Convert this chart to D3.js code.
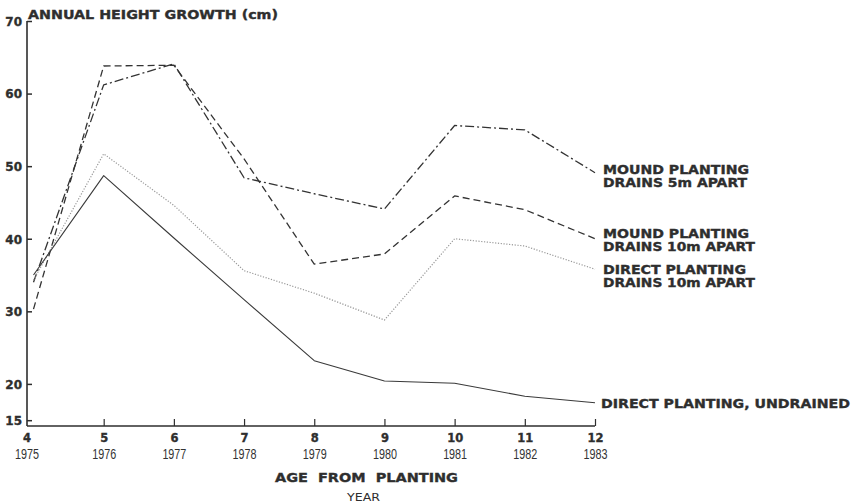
<!DOCTYPE html>
<html><head><meta charset="utf-8">
<script src="https://cdn.jsdelivr.net/npm/d3@7"></script>
<style>
html,body{margin:0;padding:0;background:#fff;}
svg{display:block;}
</style></head>
<body>
<svg id="chart" width="860" height="502"></svg>
<script>
// ---- data ----
const ages = [4, 5, 6, 7, 8, 9, 10, 11, 12];
const years = ["1975", "1976", "1977", "1978", "1979", "1980", "1981", "1982", "1983"];
const yTicks = [15, 20, 30, 40, 50, 60, 70];
const mound5 = [34.0, 61.2, 64.1, 48.4, 46.2, 44.1, 55.6, 55.0, 49.1];
const mound10 = [30.3, 63.8, 63.9, 51.0, 36.5, 37.9, 45.9, 44.0, 40.0];
const direct10 = [34.3, 51.7, 44.6, 35.6, 32.5, 28.8, 40.0, 39.0, 35.8];
const undrained = [35.0, 48.7, 40.1, 31.6, 23.2, 20.4, 20.1, 18.3, 17.4];
const labelMound5 = ["MOUND PLANTING", "DRAINS 5m APART"];
const labelMound10 = ["MOUND PLANTING", "DRAINS 10m APART"];
const labelDirect10 = ["DIRECT PLANTING", "DRAINS 10m APART"];
const labelUndrained = ["DIRECT PLANTING, UNDRAINED"];
const yTitle = "ANNUAL HEIGHT GROWTH (cm)";
const xTitle = "AGE  FROM  PLANTING";
const xSubTitle = "YEAR";

// ---- layout ----
const svg = d3.select("#chart");
const ink = "#2e2e2e";
const boldFont = "'DejaVu Sans', sans-serif";
const narrowFont = "'Liberation Sans', Arial, sans-serif";
const axisX = 27, axisY = 426;
const x = d3.scaleLinear().domain([4, 12]).range([33.5, 595]);
const y = d3.scaleLinear().domain([14.2, 70]).range([426, 21]);

function heavy(sel) {
  return sel.attr("fill", ink).attr("stroke", ink).attr("stroke-width", 0.35)
    .attr("font-family", boldFont).style("font-weight", "bold");
}

// y axis
const gy = svg.append("g").attr("transform", `translate(${axisX},0)`)
  .call(d3.axisLeft(y).tickValues(yTicks).tickSize(-5).tickPadding(5).tickSizeOuter(0));
gy.select(".domain").remove();
gy.selectAll(".tick line").attr("stroke", ink).attr("stroke-width", 1.5);
heavy(gy.selectAll(".tick text")).attr("font-size", 12).attr("dy", "0.36em");
svg.append("line").attr("x1", axisX).attr("x2", axisX).attr("y1", y(70)).attr("y2", axisY)
  .attr("stroke", ink).attr("stroke-width", 1.6);

// x axis
const gx = svg.append("g").attr("transform", `translate(0,${axisY})`)
  .call(d3.axisBottom(x).tickValues(ages).tickSize(-7).tickSizeOuter(0).tickFormat(d => d));
gx.select(".domain").remove();
gx.selectAll(".tick line").attr("stroke", ink).attr("stroke-width", 1.2)
  .filter(d => d === 4).remove();
heavy(gx.selectAll(".tick text")).attr("font-size", 11.5).attr("y", 16).attr("dy", 0);
gx.selectAll(".tick").append("text").attr("class", "year")
  .attr("fill", "#333").attr("font-family", narrowFont).attr("font-size", 14.5)
  .attr("text-anchor", "middle").attr("y", 33)
  .attr("textLength", 24).attr("lengthAdjust", "spacingAndGlyphs")
  .text(d => years[ages.indexOf(d)]);
gx.selectAll(".tick").filter(d => d === 4)
  .attr("transform", `translate(${axisX},0)`);
svg.append("line").attr("x1", axisX).attr("x2", x(12)).attr("y1", axisY).attr("y2", axisY)
  .attr("stroke", ink).attr("stroke-width", 1.6);

// titles
heavy(svg.append("text")).attr("x", 28).attr("y", 19).attr("font-size", 11.5)
  .attr("textLength", 250).attr("lengthAdjust", "spacingAndGlyphs").text(yTitle);
heavy(svg.append("text")).attr("x", 275).attr("y", 482).attr("font-size", 12)
  .attr("textLength", 183).attr("lengthAdjust", "spacingAndGlyphs")
  .style("white-space", "pre").text(xTitle);
svg.append("text").attr("x", 347).attr("y", 501).attr("fill", ink)
  .attr("font-family", boldFont).attr("font-size", 10.5)
  .attr("textLength", 33).attr("lengthAdjust", "spacingAndGlyphs").text(xSubTitle);

// lines
const series = [
  {vals: mound5, dash: "9,3,2,3", color: "#333", width: 1.3},
  {vals: mound10, dash: "7,4", color: "#333", width: 1.3},
  {vals: direct10, dash: "1.2,1.6", color: "#999", width: 1.2},
  {vals: undrained, dash: null, color: "#3a3a3a", width: 1.1}
];
const line = d3.line().x((d, i) => x(ages[i])).y(d => y(d));
series.forEach(s => {
  svg.append("path").datum(s.vals).attr("d", line).attr("fill", "none")
    .attr("stroke", s.color).attr("stroke-width", s.width)
    .attr("stroke-dasharray", s.dash).attr("stroke-linejoin", "round");
});

// labels
function label(lines, x0, baselines, widths) {
  lines.forEach((t, i) => {
    heavy(svg.append("text")).attr("x", x0).attr("y", baselines[i]).attr("font-size", 11.5)
      .attr("textLength", widths[i]).attr("lengthAdjust", "spacingAndGlyphs").text(t);
  });
}
label(labelMound5, 603, [173.5, 186.5], [146, 144]);
label(labelMound10, 603, [237.5, 250.5], [146, 152]);
label(labelDirect10, 603, [273.5, 286.5], [143, 152]);
label(labelUndrained, 601, [407.5], [249]);
</script>
</body></html>
